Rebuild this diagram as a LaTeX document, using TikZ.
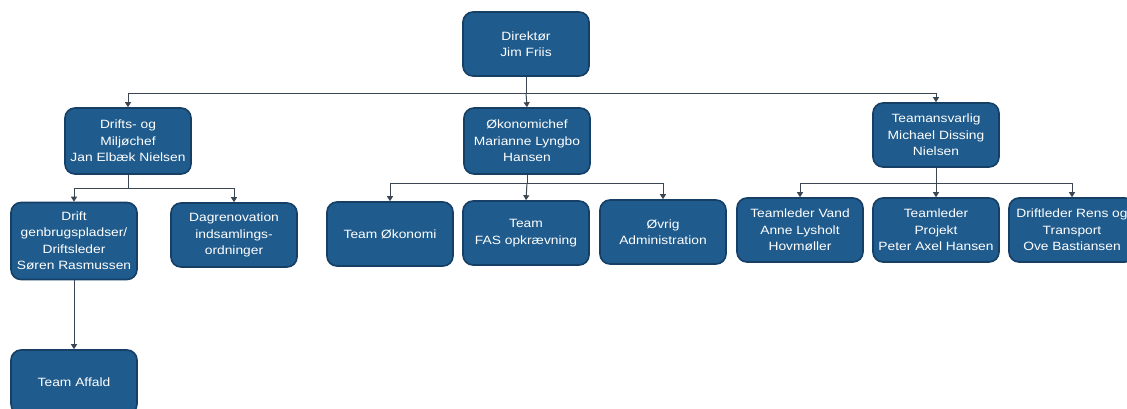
\documentclass[tikz,border=0pt]{standalone}
\usepackage{fontspec}
\setmainfont[FakeStretch=1.15]{Liberation Sans}
\usetikzlibrary{arrows.meta}
\definecolor{boxfill}{HTML}{1F5B8C}
\definecolor{boxline}{HTML}{163F66}
\definecolor{linec}{HTML}{3A4652}
\tikzset{
  orgbox/.style={draw=boxline, line width=1.6pt, fill=boxfill, rounded corners=10pt,
    text=white, align=center, inner sep=1pt, minimum width=126pt, minimum height=64pt,
    font=\fontsize{12}{16.5}\selectfont},
  conn/.style={draw=linec, line width=1pt, -{Triangle[length=5pt,width=6pt]}},
  plain/.style={draw=linec, line width=1pt}
}
\begin{document}
\begin{tikzpicture}[x=1pt,y=-1pt]
\clip (0,0) rectangle (1127,408);
\useasboundingbox (0,0) rectangle (1127,408);
\fill[white] (0,0) rectangle (1127,408);
% level 0
\node[orgbox] (dir) at (526,44) {Direktør\\Jim Friis};
% level 1
\node[orgbox, minimum height=66pt] (mil) at (128,141) {Drifts- og\\Miljøchef\\Jan Elbæk Nielsen};
\node[orgbox, minimum height=66pt] (oko) at (527,141) {Økonomichef\\Marianne Lyngbo\\Hansen};
\node[orgbox] (tea) at (936,135) {Teamansvarlig\\Michael Dissing\\Nielsen};
% level 2
\node[orgbox, minimum height=77pt] (gen) at (74,241) {Drift\\genbrugspladser/\\Driftsleder\\Søren Rasmussen};
\node[orgbox] (dag) at (234,235) {Dagrenovation\\indsamlings-\\ordninger};
\node[orgbox] (tok) at (390,234) {Team Økonomi};
\node[orgbox] (fas) at (526,233) {Team\\FAS opkrævning};
\node[orgbox] (ovr) at (663,232) {Øvrig\\Administration};
\node[orgbox] (van) at (800,230) {Teamleder Vand\\Anne Lysholt\\Hovmøller};
\node[orgbox] (pro) at (936,230) {Teamleder\\Projekt\\Peter Axel Hansen};
\node[orgbox] (ren) at (1072,230) {Driftleder Rens og\\Transport\\Ove Bastiansen};
% level 3
\node[orgbox, minimum height=64pt] (aff) at (74,382) {Team Affald};
% connectors
\coordinate (b0) at (526,93);
\draw[plain] (dir.south) -- (b0);
\draw[conn] (b0) -| (mil.north);
\draw[conn] (b0) -- (oko.north);
\draw[conn] (b0) -| (tea.north);
\coordinate (b1) at (128,188);
\draw[plain] (mil.south) -- (b1);
\draw[conn] (b1) -| (gen.north);
\draw[conn] (b1) -| (dag.north);
\coordinate (b2) at (527,183);
\draw[plain] (oko.south) -- (b2);
\draw[conn] (b2) -| (tok.north);
\draw[conn] (b2) -- (fas.north);
\draw[conn] (b2) -| (ovr.north);
\coordinate (b3) at (936,183);
\draw[plain] (tea.south) -- (b3);
\draw[conn] (b3) -| (van.north);
\draw[conn] (b3) -- (pro.north);
\draw[conn] (b3) -| (ren.north);
\draw[conn] (gen.south) -- (aff.north);
\end{tikzpicture}
\end{document}
